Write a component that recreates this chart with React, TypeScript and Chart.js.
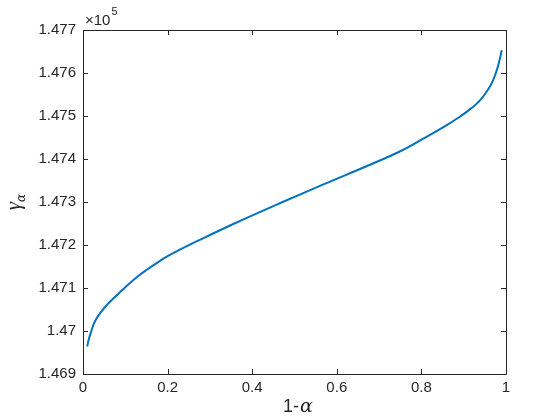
import React, { useEffect, useRef } from "react";
import { Chart, registerables } from "chart.js";

Chart.register(...registerables);

const xValues = [0.01, 0.014, 0.02, 0.028, 0.04, 0.056, 0.072, 0.085, 0.1, 0.127, 0.15, 0.174, 0.2, 0.229, 0.272, 0.358, 0.465, 0.571, 0.677, 0.75, 0.811, 0.86, 0.889, 0.91, 0.929, 0.945, 0.958, 0.968, 0.975, 0.982, 0.99];
const yValues = [1.46964, 1.46982, 1.47001, 1.47022, 1.47041, 1.4706, 1.47076, 1.47088, 1.47102, 1.47125, 1.47142, 1.47158, 1.47174, 1.47189, 1.4721, 1.4725, 1.47297, 1.47342, 1.47386, 1.47418, 1.47451, 1.47479, 1.47497, 1.47512, 1.47527, 1.47544, 1.47562, 1.4758, 1.47597, 1.47619, 1.47653];
const xTicks = [0, 0.2, 0.4, 0.6, 0.8, 1];
const yTicks = [1.469, 1.47, 1.471, 1.472, 1.473, 1.474, 1.475, 1.476, 1.477];

const AXIS = "#262626";
const FONT = "'Liberation Sans', Arial, sans-serif";
const SERIF = "'DejaVu Serif', 'Liberation Serif', serif";

const boxPlugin = {
  id: "matlabBox",
  afterDraw(chart: any) {
    const { ctx, chartArea: a, scales } = chart;
    ctx.save();
    ctx.strokeStyle = AXIS;
    ctx.lineWidth = 1;
    ctx.beginPath();
    ctx.rect(Math.round(a.left) + 0.5, Math.round(a.top) + 0.5, Math.round(a.right - a.left), Math.round(a.bottom - a.top));
    ctx.stroke();
    const tl = 5;
    ctx.beginPath();
    xTicks.forEach((t) => {
      const x = Math.round(scales.x.getPixelForValue(t)) + 0.5;
      ctx.moveTo(x, a.bottom);
      ctx.lineTo(x, a.bottom - tl);
      ctx.moveTo(x, a.top);
      ctx.lineTo(x, a.top + tl);
    });
    yTicks.forEach((t) => {
      const y = Math.round(scales.y.getPixelForValue(t)) + 0.5;
      ctx.moveTo(a.left, y);
      ctx.lineTo(a.left + tl, y);
      ctx.moveTo(a.right, y);
      ctx.lineTo(a.right - tl, y);
    });
    ctx.stroke();

    // exponent label
    ctx.fillStyle = AXIS;
    ctx.textBaseline = "alphabetic";
    ctx.textAlign = "left";
    ctx.font = `15px ${FONT}`;
    ctx.fillText("\u00d710", a.left + 2, 25);
    const ew = ctx.measureText("\u00d710").width;
    ctx.font = `11px ${FONT}`;
    ctx.fillText("5", a.left + 2 + ew + 1, 15);

    // x title
    ctx.font = `18px ${FONT}`;
    const part1 = "1-";
    const w1 = ctx.measureText(part1).width;
    ctx.font = `italic 19px ${SERIF}`;
    const w2 = ctx.measureText("\u03b1").width;
    const cx = (a.left + a.right) / 2 + 3;
    const startX = cx - (w1 + w2) / 2;
    ctx.font = `18px ${FONT}`;
    ctx.fillText(part1, startX, 412);
    ctx.font = `italic 19px ${SERIF}`;
    ctx.fillText("\u03b1", startX + w1 + 1, 412);

    // y title
    ctx.translate(20, (a.top + a.bottom) / 2);
    ctx.rotate(-Math.PI / 2);
    ctx.font = `italic 21px 'Liberation Serif', serif`;
    const gw = ctx.measureText("\u03b3").width;
    ctx.font = `italic 12px ${SERIF}`;
    const aw = ctx.measureText("\u03b1").width;
    const sx = -(gw + aw) / 2;
    ctx.font = `italic 21px 'Liberation Serif', serif`;
    ctx.fillText("\u03b3", sx, 0);
    ctx.font = `italic 12px ${SERIF}`;
    ctx.fillText("\u03b1", sx + gw, 5);
    ctx.restore();
  },
};

export default function App() {
  const ref = useRef<HTMLCanvasElement>(null);
  useEffect(() => {
    document.body.style.margin = "0";
    const chart = new Chart(ref.current as HTMLCanvasElement, {
      type: "line",
      data: {
        datasets: [
          {
            data: xValues.map((x, i) => ({ x, y: yValues[i] })),
            borderColor: "#0072BD",
            borderWidth: 2,
            pointRadius: 0,
            fill: false,
            tension: 0.4,
          },
        ],
      },
      options: {
        animation: false,
        responsive: false,
        layout: { padding: { left: 0, right: 54, top: 30, bottom: 0 } },
        plugins: { legend: { display: false }, tooltip: { enabled: false } },
        scales: {
          x: {
            type: "linear",
            min: 0,
            max: 1,
            grid: { display: false, drawTicks: false, tickLength: 0 },
            border: { display: false },
            afterBuildTicks: (s: any) => {
              s.ticks = xTicks.map((v) => ({ value: v }));
            },
            afterFit: (s: any) => {
              s.height = 46;
            },
            ticks: {
              color: AXIS,
              padding: 5,
              maxRotation: 0,
              font: { family: FONT, size: 15 },
              callback: (v: any) => String(Number(Number(v).toFixed(3))),
            },
          },
          y: {
            type: "linear",
            min: 1.469,
            max: 1.477,
            grid: { display: false, drawTicks: false, tickLength: 0 },
            border: { display: false },
            afterBuildTicks: (s: any) => {
              s.ticks = yTicks.map((v) => ({ value: v }));
            },
            afterFit: (s: any) => {
              s.width = 83;
            },
            ticks: {
              color: AXIS,
              padding: 7,
              font: { family: FONT, size: 15 },
              callback: (v: any) => String(Number(Number(v).toFixed(3))),
            },
          },
        },
      },
      plugins: [boxPlugin],
    } as any);
    return () => chart.destroy();
  }, []);
  return <canvas ref={ref} width={560} height={420} style={{ display: "block" }} />;
}
